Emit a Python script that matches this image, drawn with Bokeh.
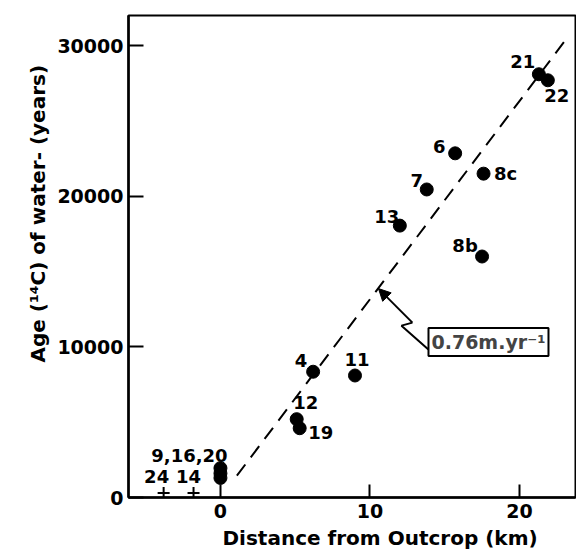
import math
from bokeh.plotting import figure
from bokeh.models import FixedTicker, Label, Arrow, NormalHead, ColumnDataSource, Range1d, Title
from bokeh.core.properties import value
from bokeh.embed import file_html
from bokeh.resources import INLINE

FONT = "DejaVu Sans"

# ---- data ----
well_ids = ["21", "22", "6", "8c", "7", "13", "8b", "4", "11", "12", "19"]
dist_km = [21.3, 21.9, 15.7, 17.6, 13.8, 12.0, 17.5, 6.2, 9.0, 5.1, 5.3]
age_yr = [28100, 27700, 22850, 21500, 20450, 18050, 16000, 8350, 8100, 5200, 4600]

outcrop_dist = [0.0, 0.0, 0.0]
outcrop_age = [1950, 1600, 1300]
outcrop_label = "9,16,20"

cross_ids = ["24", "14"]
cross_dist = [-3.8, -1.8]
cross_age = [300, 300]

velocity_m_per_yr = 0.76
trend_x = [1.1, 23.2]
trend_y = [x * 1000.0 / velocity_m_per_yr for x in trend_x]

x_ticks = [0, 10, 20]
y_ticks = [0, 10000, 20000, 30000]
y_tick_labels = ["0", "10000", "20000", "30000"]

# ---- layout (label offsets in pixels, not data) ----
label_dx = [-16, 9, -16, 22, -10, -13, -17, -12, 2, 9, 21]
label_dy = [-13, 15, -7, 0, -9, -9, -11, -11, -16, -17, 4]
cross_dx = [-7, -5]
cross_dy = [-16, -16]

W, H = 576, 557
p = figure(width=W, height=H, output_backend="svg", toolbar_location=None,
           x_range=Range1d(-6.15, 23.75), y_range=Range1d(0, 32000),
           min_border_left=128, min_border_right=1, min_border_top=15, min_border_bottom=60)
p.xgrid.visible = False
p.ygrid.visible = False
p.outline_line_color = "black"
p.outline_line_width = 2
p.background_fill_color = "white"
p.border_fill_color = "white"

for ax in (p.xaxis[0], p.yaxis[0]):
    ax.axis_line_width = 2.5
    ax.major_tick_line_width = 2
    ax.major_tick_out = 0
    ax.minor_tick_in = 0
    ax.minor_tick_out = 0
    ax.major_label_text_font = FONT
    ax.major_label_text_font_size = "19px"
    ax.major_label_text_font_style = "bold"
    ax.major_label_text_color = "black"
    ax.axis_line_color = "black"
    ax.major_tick_line_color = "black"

p.xaxis.ticker = FixedTicker(ticks=x_ticks)
p.xaxis.major_tick_in = 13
p.xaxis.major_label_standoff = 6
p.yaxis.ticker = FixedTicker(ticks=y_ticks)
p.yaxis.major_label_overrides = {t: s for t, s in zip(y_ticks, y_tick_labels)}
p.yaxis.major_tick_in = 15
p.yaxis.major_label_standoff = 5
p.yaxis.major_label_orientation = "horizontal"

# trend line
p.line(trend_x, trend_y, line_color="black", line_width=2, line_dash="14 9")

# points
p.scatter(dist_km, age_yr, size=13, color="black")
p.scatter(outcrop_dist, outcrop_age, size=13, color="black")
p.scatter(cross_dist, cross_age, marker="cross", size=12, line_width=2, color="black")

txt = dict(text_font=value(FONT), text_font_size="18px", text_font_style="bold",
           text_align="center", text_baseline="middle", text_color="black")
src = ColumnDataSource(dict(x=dist_km, y=age_yr, t=well_ids, dx=label_dx, dy=label_dy))
p.text("x", "y", text="t", x_offset="dx", y_offset="dy", source=src, **txt)
src2 = ColumnDataSource(dict(x=cross_dist, y=cross_age, t=cross_ids, dx=cross_dx, dy=cross_dy))
p.text("x", "y", text="t", x_offset="dx", y_offset="dy", source=src2, **txt)
p.text([outcrop_dist[0]], [outcrop_age[0]], text=[outcrop_label], x_offset=-31, y_offset=-13, **txt)

# velocity annotation
p.line([13.91, 12.11, 12.84], [9820, 11410, 11610], line_color="black", line_width=2)
p.add_layout(Arrow(x_start=12.84, y_start=11610, x_end=10.57, y_end=13870,
                   line_width=2, line_color="black",
                   end=NormalHead(size=12, fill_color="black", line_color="black")))
p.add_layout(Label(x=17.93, y=10320, text="0.76m.yr\u207b\u00b9", text_font=FONT,
                   text_font_size="19px", text_font_style="bold", text_align="center",
                   text_baseline="middle", border_line_color="black", border_line_width=2,
                   background_fill_color="white", padding=3))

# axis titles
p.add_layout(Title(text="Age (\u00b9\u2074C) of water- (years)", align="left", offset=135,
                   standoff=10, text_font=FONT, text_font_size="20px", text_font_style="bold",
                   text_color="black"), "left")
p.add_layout(Title(text="Distance from Outcrop (km)", align="left", offset=94,
                   standoff=6, text_font=FONT, text_font_size="20px", text_font_style="bold",
                   text_color="black"), "below")

open("out.html", "w").write(file_html(p, INLINE))
